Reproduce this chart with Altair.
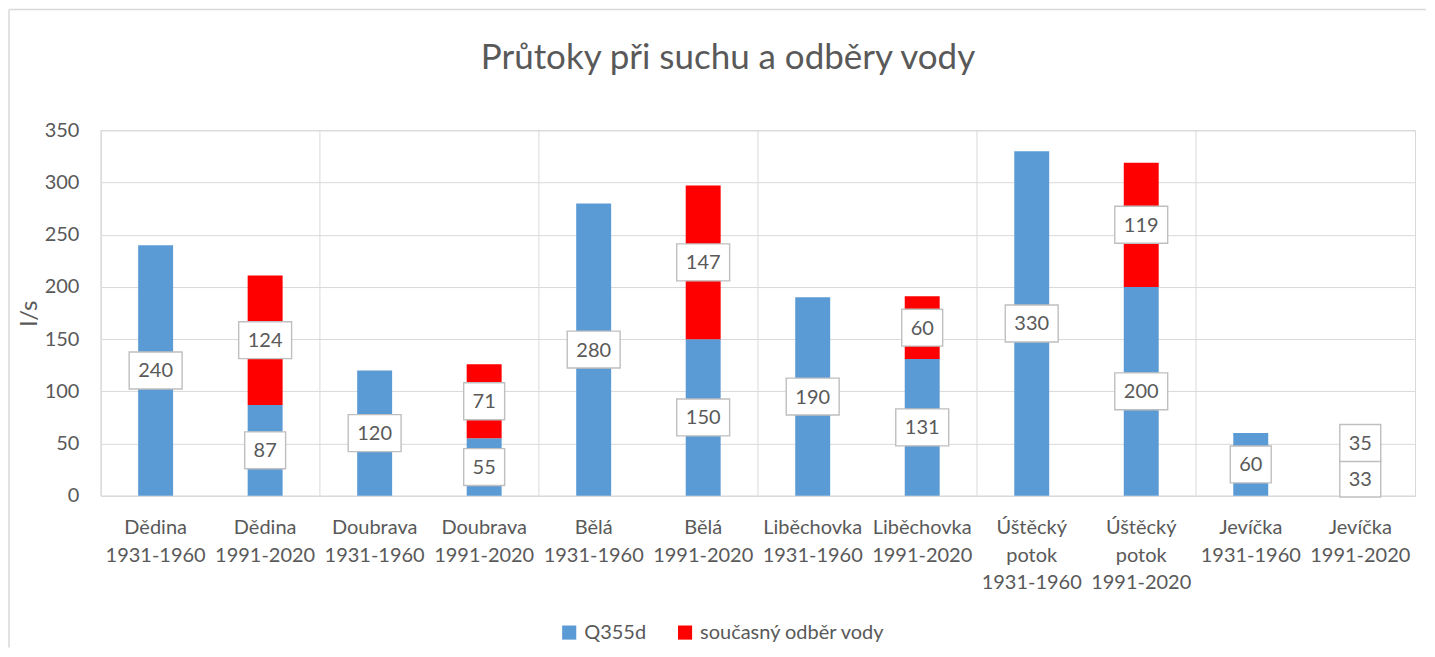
import altair as alt
import pandas as pd

categories = [
    "Dědina|1931-1960", "Dědina|1991-2020",
    "Doubrava|1931-1960", "Doubrava|1991-2020",
    "Bělá|1931-1960", "Bělá|1991-2020",
    "Liběchovka|1931-1960", "Liběchovka|1991-2020",
    "Úštěcký|potok|1931-1960", "Úštěcký|potok|1991-2020",
    "Jevíčka|1931-1960", "Jevíčka|1991-2020",
]
q355d = [240, 87, 120, 55, 280, 150, 190, 131, 330, 200, 60, 33]
odber = [None, 124, None, 71, None, 147, None, 60, None, 119, None, 35]
series_names = ["Q355d", "současný odběr vody"]
series_colors = ["#5B9BD5", "#FF0000"]
y_ticks = [0, 50, 100, 150, 200, 250, 300, 350]

rows = []
for i, c in enumerate(categories):
    rows.append({"cat": c, "series": series_names[0], "value": q355d[i], "order": 0})
    if odber[i] is not None:
        rows.append({"cat": c, "series": series_names[1], "value": odber[i], "order": 1})
df = pd.DataFrame(rows)

FONT = "Lato"
TXT = "#595959"
GRID = "#D9D9D9"

xscale = alt.Scale(domain=categories, paddingInner=0, paddingOuter=0)
yscale = alt.Scale(domain=[0, 350], nice=False)

x_axis = alt.Axis(
    labelExpr="split(datum.value, '|')", labelAngle=0, labelFontSize=20,
    labelLineHeight=27.5, labelPadding=22, labelColor=TXT, labelFont=FONT,
    ticks=False, domain=True, domainColor=GRID, grid=False, labelLimit=200,
    labelBaseline="top",
)
y_axis = alt.Axis(
    values=y_ticks, grid=True, gridColor=GRID, domain=False, ticks=False,
    labelFontSize=20, labelColor=TXT, labelFont=FONT, labelPadding=22,
    title="l/s", titleFontSize=24, titleColor=TXT, titleFont=FONT,
    titleFontWeight="normal", titlePadding=3,
)

base = alt.Chart(df).transform_stack(
    stack="value", groupby=["cat"], as_=["y0", "y1"],
    sort=[alt.SortField("order", "ascending")],
).transform_calculate(mid="(datum.y0 + datum.y1) / 2")

x_enc = alt.X("cat:N", sort=categories, scale=xscale, axis=x_axis, title=None)

bars = base.mark_bar(size=35).encode(
    x=x_enc,
    y=alt.Y("y0:Q", scale=yscale, axis=y_axis),
    y2="y1:Q",
    color=alt.Color(
        "series:N",
        scale=alt.Scale(domain=series_names, range=series_colors),
        legend=alt.Legend(
            title=None, orient="none", legendX=459, legendY=493,
            direction="horizontal", symbolType="square", symbolSize=200,
            symbolStrokeWidth=0, labelFontSize=20, labelColor=TXT,
            labelFont=FONT, labelOffset=5, columnPadding=28, padding=0,
            labelLimit=400,
        ),
    ),
)

seps = alt.Chart(df).transform_filter(
    "indexof(datum.cat, '1931') >= 0 && datum.order == 0"
).mark_rule(color=GRID, strokeWidth=1).encode(
    x=alt.X("cat:N", sort=categories, scale=xscale, bandPosition=0, axis=x_axis, title=None),
    y=alt.datum(0),
    y2=alt.datum(350),
)

box3 = base.transform_filter("datum.value >= 100").mark_point(
    shape="M-1,-0.698L1,-0.698L1,0.698L-1,0.698Z", size=2809,
    filled=True, fill="white", stroke="#BFBFBF", strokeWidth=1.4,
    opacity=1, fillOpacity=1, strokeOpacity=1,
).encode(x=x_enc, y=alt.Y("mid:Q", scale=yscale))

box2 = base.transform_filter("datum.value < 100").mark_point(
    shape="M-1,-0.902L1,-0.902L1,0.902L-1,0.902Z", size=1681,
    filled=True, fill="white", stroke="#BFBFBF", strokeWidth=1.4,
    opacity=1, fillOpacity=1, strokeOpacity=1,
).encode(x=x_enc, y=alt.Y("mid:Q", scale=yscale))

labels = base.mark_text(
    fontSize=20, color=TXT, font=FONT, baseline="middle", align="center", dy=1,
).encode(x=x_enc, y=alt.Y("mid:Q", scale=yscale), text="value:Q")

frame_data = alt.Data(values=[{"k": 0}])
frame_top = alt.Chart(frame_data).mark_rule(color=GRID, strokeWidth=1.5).encode(
    x=alt.value(-92), x2=alt.value(1327), y=alt.value(-121)
)
frame_left = alt.Chart(frame_data).mark_rule(color=GRID, strokeWidth=1.5).encode(
    x=alt.value(-92), y=alt.value(-121), y2=alt.value(518)
)

chart = alt.layer(
    bars, seps, frame_top, frame_left, box3, box2, labels
).properties(
    width=1316, height=366, padding=0,
    title=alt.TitleParams(
        "Průtoky při suchu a odběry vody", fontSize=35, font=FONT,
        fontWeight="normal", color=TXT, anchor="middle", frame="group",
        baseline="alphabetic", offset=-95, dx=-30,
    ),
).configure_view(stroke=GRID, strokeWidth=1)

chart.save("out.html", embed_options={"renderer": "svg", "actions": False})
